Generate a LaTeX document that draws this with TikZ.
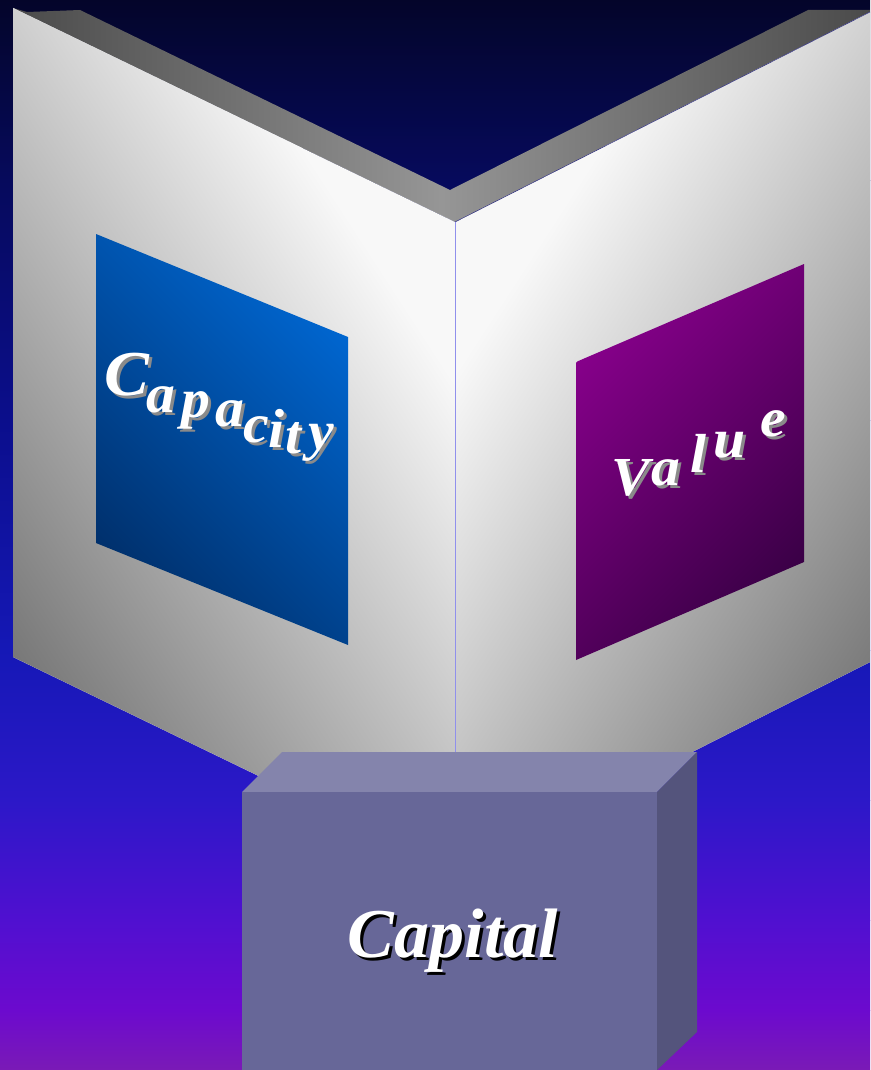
\documentclass[tikz,border=0pt]{standalone}
\usepackage{fontspec}
\newfontfamily\tnr{Liberation Serif}
\newfontfamily\tnrwide{Liberation Serif}[FakeStretch=1.05]
\definecolor{bgA}{HTML}{04052A}
\definecolor{bgB}{HTML}{060A5C}
\definecolor{bgC}{HTML}{0B0E8C}
\definecolor{bgD}{HTML}{1518B6}
\definecolor{bgE}{HTML}{2C18C8}
\definecolor{bgF}{HTML}{5010D0}
\definecolor{bgG}{HTML}{6C0ACE}
\definecolor{bgH}{HTML}{7A1AB6}
\definecolor{facewhite}{HTML}{F8F8F8}
\definecolor{facedark}{HTML}{787878}
\definecolor{stripdark}{HTML}{4A4A4A}
\definecolor{striplight}{HTML}{969696}
\definecolor{blueA}{HTML}{00306C}
\definecolor{blueB}{HTML}{0066D0}
\definecolor{purpA}{HTML}{3A0046}
\definecolor{purpB}{HTML}{86008A}
\definecolor{boxtop}{HTML}{8484AC}
\definecolor{boxfront}{HTML}{676798}
\definecolor{boxside}{HTML}{54547C}
\definecolor{foldline}{HTML}{9090EC}
\definecolor{edgeline}{HTML}{303080}
\definecolor{shadowgray}{HTML}{8A8A8A}
\newcommand{\capfont}{\tnrwide\bfseries\itshape\fontsize{55}{60}\selectfont}
\newcommand{\capCfont}{\tnrwide\bfseries\itshape\fontsize{64}{72}\selectfont}
\newcommand{\valfont}{\tnrwide\bfseries\itshape\fontsize{55}{58}\selectfont}
\newcommand{\bigfont}{\tnr\bfseries\itshape\fontsize{70}{80}\selectfont}
\newcommand{\shadowletter}[6]{%
  \node[letshadow, text=#6, font=#5] (#1-s) at ({#2+3},{-#3-3}) {#4};
  \node[lettxt, font=#5] (#1) at ({#2},{-#3}) {#4};}
\tikzset{
  lettxt/.style={text=white, inner sep=0pt, anchor=base},
  letshadow/.style={inner sep=0pt, anchor=base},
  band/.style={draw=none},
}
\begin{document}
\begin{tikzpicture}[x=1pt,y=1pt]
\useasboundingbox (0,0) rectangle (870,-1070);
% background
\shade[band, top color=bgA, bottom color=bgB] (0,0) rectangle (870,-180.5);
\shade[band, top color=bgB, bottom color=bgC] (0,-180) rectangle (870,-420.5);
\shade[band, top color=bgC, bottom color=bgD] (0,-420) rectangle (870,-650.5);
\shade[band, top color=bgD, bottom color=bgE] (0,-650) rectangle (870,-800.5);
\shade[band, top color=bgE, bottom color=bgF] (0,-800) rectangle (870,-920.5);
\shade[band, top color=bgF, bottom color=bgG] (0,-920) rectangle (870,-1010.5);
\shade[band, top color=bgG, bottom color=bgH] (0,-1010) rectangle (870,-1070);
% top strip (thickness of the folded board)
\shade[left color=stripdark, right color=stripdark, middle color=striplight]
  (13,-8) -- (27,-12) -- (80,-10) -- (450,-190) -- (808,-10) -- (870,-10)
  -- (870,-12) -- (455,-222) -- cycle;
% left face
\begin{scope}
  \clip (13,-8) -- (455,-222) -- (455,-871) -- (13,-657) -- cycle;
  \fill[facewhite] (0,0) rectangle (870,-1070);
  \begin{scope}[transform canvas={shift={(13,-657)}, rotate=-57}]
    \shade[bottom color=facedark, top color=facewhite] (-1000,0) rectangle (1000,520);
  \end{scope}
\end{scope}
% right face
\begin{scope}
  \clip (455,-222) -- (870,-12) -- (870,-662) -- (455,-872) -- cycle;
  \fill[facewhite] (0,0) rectangle (870,-1070);
  \begin{scope}[transform canvas={shift={(885,-665)}, rotate=57}]
    \shade[bottom color=facedark, top color=facewhite] (-1000,0) rectangle (1000,520);
  \end{scope}
\end{scope}
\draw[edgeline, line width=0.5pt] (455,-222) -- (870,-12);
% blue panel
\begin{scope}
  \clip (96,-234) -- (348,-337) -- (348,-645) -- (96,-543) -- cycle;
  \begin{scope}[transform canvas={shift={(96,-543)}, rotate=-45}]
    \shade[bottom color=blueA, top color=blueB] (-600,0) rectangle (600,324);
  \end{scope}
\end{scope}
% purple panel
\begin{scope}
  \clip (576,-362) -- (804,-264) -- (804,-562) -- (576,-660) -- cycle;
  \begin{scope}[transform canvas={shift={(804,-562)}, rotate=45}]
    \shade[bottom color=purpA, top color=purpB] (-600,0) rectangle (600,302);
  \end{scope}
\end{scope}
% fold line
\draw[foldline, line width=1pt] (455.5,-222) -- (455.5,-752);
% Capacity
\shadowletter{c1}{127}{395}{C}{\capCfont}{shadowgray}
\shadowletter{c2}{161}{412}{a}{\capfont}{shadowgray}
\shadowletter{c3}{196}{417}{p}{\capfont}{shadowgray}
\shadowletter{c4}{230}{426}{a}{\capfont}{shadowgray}
\shadowletter{c5}{256}{442}{c}{\capfont}{shadowgray}
\shadowletter{c6}{277}{447}{i}{\capfont}{shadowgray}
\shadowletter{c7}{294}{453}{t}{\capfont}{shadowgray}
\shadowletter{c8}{321}{449}{y}{\capfont}{shadowgray}
% Value
\shadowletter{v1}{631}{495}{V}{\valfont}{shadowgray}
\shadowletter{v2}{666}{485}{a}{\valfont}{shadowgray}
\shadowletter{v3}{699}{472}{l}{\valfont}{shadowgray}
\shadowletter{v4}{730}{457}{u}{\valfont}{shadowgray}
\shadowletter{v5}{773}{436}{e}{\valfont}{shadowgray}
% box
\fill[boxtop] (242,-792) -- (282,-752) -- (697,-752) -- (657,-792) -- cycle;
\fill[boxfront] (242,-792) rectangle (657,-1070);
\fill[boxside] (657,-792) -- (697,-752) -- (697,-1032) -- (657,-1070) -- cycle;
\shadowletter{cap}{453}{957}{Capital}{\bigfont}{black}
\end{tikzpicture}
\end{document}
